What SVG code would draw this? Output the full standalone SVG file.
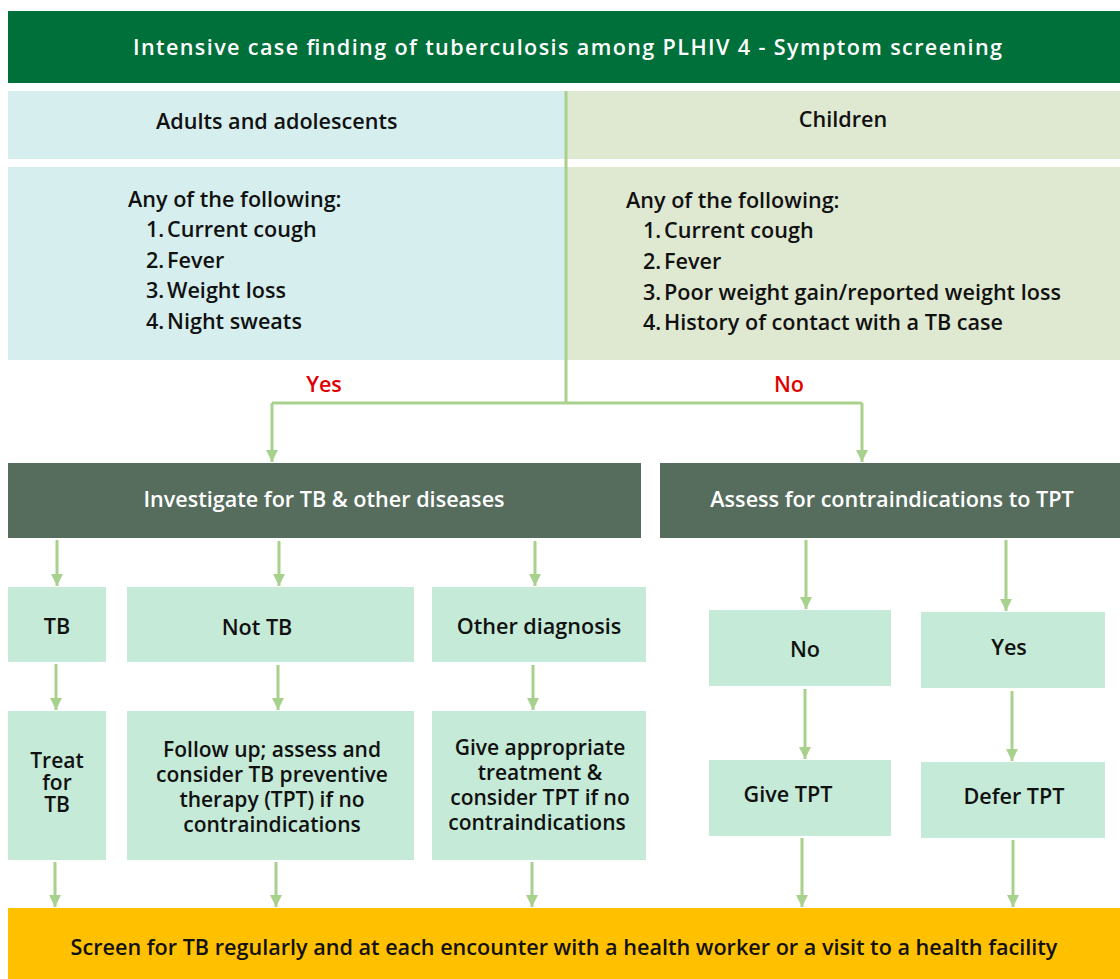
<svg xmlns="http://www.w3.org/2000/svg" width="1120" height="979" viewBox="0 0 1120 979">
  <style>
    .t { font-family: "Open Sans", Lato, "Liberation Sans", sans-serif; font-weight: 600; font-size: 21.6px; fill: #111; }
    .s { font-size: 21px; }
    .w { fill: #ffffff; }
    .red { fill: #e00000; }
    .mid { text-anchor: middle; }
    .mint { fill: #c5ead7; }
    .dark { fill: #566d5e; }
    .conn { stroke: #a9d18e; stroke-width: 3; fill: none; }
  </style>
  <defs>
    <marker id="arr" viewBox="0 0 10 10" refX="10" refY="5" markerWidth="4" markerHeight="4" orient="auto" markerUnits="strokeWidth">
      <path d="M0,0 L10,5 L0,10 z" fill="#a9d18e"/>
    </marker>
  </defs>
  <rect width="1120" height="979" fill="#ffffff"/>

  <g id="title">
    <rect x="8" y="11" width="1112" height="72" fill="#00703a"/>
    <text class="t w" x="133" y="55" font-size="23.5" font-weight="700" textLength="869" lengthAdjust="spacing">Intensive case finding of tuberculosis among PLHIV 4 - Symptom screening</text>
  </g>

  <g id="adults-head">
    <rect x="8" y="91" width="557" height="68" fill="#d6efee"/>
    <text class="t" x="156" y="129">Adults and adolescents</text>
  </g>
  <g id="children-head">
    <rect x="565" y="91" width="555" height="68" fill="#dfe9d2"/>
    <text class="t mid" x="843" y="127">Children</text>
  </g>

  <g id="adults-symptoms">
    <rect x="8" y="167" width="557" height="193" fill="#d6efee"/>
    <text class="t" x="128" y="207">Any of the following:</text>
    <text class="t" x="146" y="237">1.</text><text class="t" x="167" y="237">Current cough</text>
    <text class="t" x="146" y="268">2.</text><text class="t" x="167" y="268">Fever</text>
    <text class="t" x="146" y="298">3.</text><text class="t" x="167" y="298">Weight loss</text>
    <text class="t" x="146" y="329">4.</text><text class="t" x="167" y="329">Night sweats</text>
  </g>
  <g id="children-symptoms">
    <rect x="565" y="167" width="555" height="193" fill="#dfe9d2"/>
    <text class="t" x="626" y="208">Any of the following:</text>
    <text class="t" x="643" y="238">1.</text><text class="t" x="664" y="238">Current cough</text>
    <text class="t" x="643" y="269">2.</text><text class="t" x="664" y="269">Fever</text>
    <text class="t" x="643" y="300">3.</text><text class="t" x="664" y="300">Poor weight gain/reported weight loss</text>
    <text class="t" x="643" y="330">4.</text><text class="t" x="664" y="330">History of contact with a TB case</text>
  </g>

  <g id="labels">
    <text class="t red mid" x="324" y="392">Yes</text>
    <text class="t red mid" x="789" y="392">No</text>
  </g>

  <g id="investigate">
    <rect x="8" y="463" width="633" height="75" class="dark"/>
    <text class="t w mid" x="324" y="507">Investigate for TB &amp; other diseases</text>
  </g>
  <g id="assess">
    <rect x="660" y="463" width="460" height="75" class="dark"/>
    <text class="t w mid" x="892" y="507">Assess for contraindications to TPT</text>
  </g>

  <g id="tb">
    <rect x="8" y="587" width="98" height="75" class="mint"/>
    <text class="t mid" x="57" y="634">TB</text>
  </g>
  <g id="not-tb">
    <rect x="127" y="587" width="287" height="75" class="mint"/>
    <text class="t mid" x="257" y="635">Not TB</text>
  </g>
  <g id="other-diagnosis">
    <rect x="432" y="587" width="214" height="75" class="mint"/>
    <text class="t mid" x="539" y="634">Other diagnosis</text>
  </g>

  <g id="treat">
    <rect x="8" y="711" width="98" height="149" class="mint"/>
    <text class="t s mid" x="57" y="768">Treat</text>
    <text class="t s mid" x="57" y="790">for</text>
    <text class="t s mid" x="57" y="812">TB</text>
  </g>
  <g id="follow-up">
    <rect x="127" y="711" width="287" height="149" class="mint"/>
    <text class="t s mid" x="272" y="757">Follow up; assess and</text>
    <text class="t s mid" x="272" y="782">consider TB preventive</text>
    <text class="t s mid" x="272" y="807">therapy (TPT) if no</text>
    <text class="t s mid" x="272" y="832">contraindications</text>
  </g>
  <g id="give-treatment">
    <rect x="432" y="711" width="214" height="149" class="mint"/>
    <text class="t s mid" x="540" y="755">Give appropriate</text>
    <text class="t s mid" x="540" y="780">treatment &amp;</text>
    <text class="t s mid" x="540" y="805">consider TPT if no</text>
    <text class="t s mid" x="537" y="830">contraindications</text>
  </g>

  <g id="contra-no">
    <rect x="709" y="610" width="182" height="76" class="mint"/>
    <text class="t mid" x="805" y="657">No</text>
  </g>
  <g id="contra-yes">
    <rect x="921" y="612" width="184" height="76" class="mint"/>
    <text class="t mid" x="1009" y="655">Yes</text>
  </g>
  <g id="give-tpt">
    <rect x="709" y="760" width="182" height="76" class="mint"/>
    <text class="t mid" x="788" y="802">Give TPT</text>
  </g>
  <g id="defer-tpt">
    <rect x="921" y="762" width="184" height="76" class="mint"/>
    <text class="t mid" x="1014" y="804">Defer TPT</text>
  </g>

  <g id="screen">
    <rect x="8" y="908" width="1112" height="71" fill="#ffc000"/>
    <text class="t mid" x="564" y="955">Screen for TB regularly and at each encounter with a health worker or a visit to a health facility</text>
  </g>

  <g id="connectors">
    <path class="conn" d="M566,91 V403"/>
    <path class="conn" d="M862,403 H272"/>
    <path class="conn" d="M272,403 V462" marker-end="url(#arr)"/>
    <path class="conn" d="M862,403 V462" marker-end="url(#arr)"/>
    <path class="conn" d="M57,540 V586" marker-end="url(#arr)"/>
    <path class="conn" d="M279,541 V586" marker-end="url(#arr)"/>
    <path class="conn" d="M535,541 V586" marker-end="url(#arr)"/>
    <path class="conn" d="M56,664 V710" marker-end="url(#arr)"/>
    <path class="conn" d="M278,665 V710" marker-end="url(#arr)"/>
    <path class="conn" d="M533,665 V710" marker-end="url(#arr)"/>
    <path class="conn" d="M806,540 V609" marker-end="url(#arr)"/>
    <path class="conn" d="M1006,540 V611" marker-end="url(#arr)"/>
    <path class="conn" d="M805,689 V759" marker-end="url(#arr)"/>
    <path class="conn" d="M1012,691 V761" marker-end="url(#arr)"/>
    <path class="conn" d="M55,862 V907" marker-end="url(#arr)"/>
    <path class="conn" d="M276,862 V907" marker-end="url(#arr)"/>
    <path class="conn" d="M532,862 V907" marker-end="url(#arr)"/>
    <path class="conn" d="M802,838 V907" marker-end="url(#arr)"/>
    <path class="conn" d="M1013,840 V907" marker-end="url(#arr)"/>
  </g>
</svg>
